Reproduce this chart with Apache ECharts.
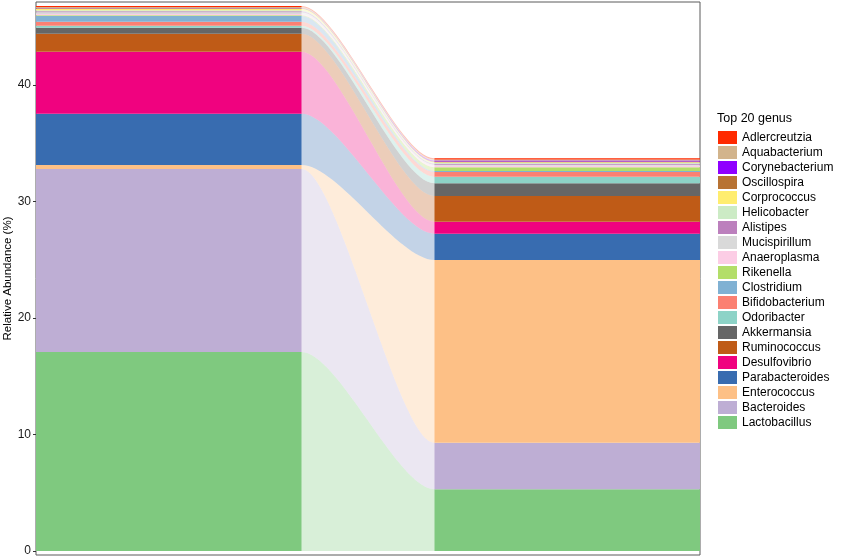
<!DOCTYPE html>
<html>
<head>
<meta charset="utf-8">
<script src="https://cdn.jsdelivr.net/npm/echarts@6/dist/echarts.min.js"></script>
<style>
html,body{margin:0;padding:0;background:#fff;}
#chart{width:858px;height:558px;}
</style>
</head>
<body>
<div id="chart"></div>
<script>
// Genus names, stacked bottom -> top
const genus = ['Lactobacillus','Bacteroides','Enterococcus','Parabacteroides','Desulfovibrio','Ruminococcus','Akkermansia','Odoribacter','Bifidobacterium','Clostridium','Rikenella','Anaeroplasma','Mucispirillum','Alistipes','Helicobacter','Corprococcus','Oscillospira','Corynebacterium','Aquabacterium','Adlercreutzia'];
// Relative abundance (%) in the first (left) group
const group1 = [17.08, 15.71, 0.34, 4.40, 5.32, 1.55, 0.52, 0.17, 0.34, 0.49, 0.07, 0.10, 0.15, 0.10, 0.08, 0.12, 0.05, 0.03, 0.08, 0.08];
// Relative abundance (%) in the second (right) group
const group2 = [5.30, 4.00, 15.68, 2.26, 1.03, 2.21, 1.09, 0.57, 0.40, 0.08, 0.33, 0.12, 0.10, 0.08, 0.08, 0.05, 0.05, 0.10, 0.08, 0.10];
// Colours per genus (same order)
const colors = ['#7FC97F','#BEAED4','#FDC086','#386CB0','#F0027F','#BF5B17','#666666','#8DD3C7','#FB8072','#80B1D3','#B3DE69','#FCCDE5','#D9D9D9','#BC80BD','#CCEBC5','#FFED6F','#B87333','#8F00FF','#D2B48C','#FF2A00'];
// Y-axis tick labels
const yTicks = [0, 10, 20, 30, 40];

const BAR_W = 2 / 3;      // stratum width in x units
const CURVE_K = 0.27;     // control point offset for flow curves
const FLOW_ALPHA = 0.3;

function cum(arr) {
  const out = []; let s = 0;
  for (const v of arr) { out.push([s, s + v]); s += v; }
  return out;
}
const c1 = cum(group1), c2 = cum(group2);

const series = genus.map((g, i) => ({
  type: 'custom',
  name: g,
  coordinateSystem: 'cartesian2d',
  itemStyle: { color: colors[i] },
  data: [[c1[i][0], c1[i][1], c2[i][0], c2[i][1]]],
  encode: { x: -1, y: [0, 1, 2, 3] },
  silent: true,
  renderItem: function (params, api) {
    const lb = api.value(0), lt = api.value(1), rb = api.value(2), rt = api.value(3);
    const xL0 = api.coord([1 - BAR_W / 2, 0])[0];
    const xL1 = api.coord([1 + BAR_W / 2, 0])[0];
    const xR0 = api.coord([2 - BAR_W / 2, 0])[0];
    const xR1 = api.coord([2 + BAR_W / 2, 0])[0];
    const yLb = api.coord([1, lb])[1], yLt = api.coord([1, lt])[1];
    const yRb = api.coord([2, rb])[1], yRt = api.coord([2, rt])[1];
    const w = xR0 - xL1;
    const ca = xL1 + w * CURVE_K, cb = xR0 - w * CURVE_K;
    const path = 'M' + xL1 + ',' + yLt +
      ' C' + ca + ',' + yLt + ' ' + cb + ',' + yRt + ' ' + xR0 + ',' + yRt +
      ' L' + xR0 + ',' + yRb +
      ' C' + cb + ',' + yRb + ' ' + ca + ',' + yLb + ' ' + xL1 + ',' + yLb + ' Z';
    const col = colors[params.seriesIndex];
    return {
      type: 'group',
      children: [
        { type: 'path', shape: { pathData: path }, style: { fill: col, opacity: FLOW_ALPHA, stroke: null } },
        { type: 'rect', shape: { x: xL0, y: yLt, width: xL1 - xL0, height: yLb - yLt }, style: { fill: col } },
        { type: 'rect', shape: { x: xR0, y: yRt, width: xR1 - xR0, height: yRb - yRt }, style: { fill: col } }
      ]
    };
  }
}));

const chart = echarts.init(document.getElementById('chart'), null, { renderer: 'canvas' });
chart.setOption({
  animation: false,
  backgroundColor: '#ffffff',
  textStyle: { fontFamily: 'Liberation Sans, Arial, sans-serif' },
  title: {
    text: 'Top 20 genus',
    left: 717, top: 112,
    padding: 0,
    textStyle: { fontSize: 12.5, fontWeight: 'normal', color: '#000', fontFamily: 'Liberation Sans' }
  },
  grid: {
    left: 36, right: 158, top: 2, bottom: 3,
    containLabel: false,
    outerBoundsMode: 'none',
    show: true, borderColor: '#5a5a5a', borderWidth: 1, backgroundColor: '#fff'
  },
  xAxis: {
    type: 'value', min: 1 - BAR_W / 2, max: 2 + BAR_W / 2,
    show: false
  },
  yAxis: {
    type: 'value', min: -0.34, max: 47.13,
    name: 'Relative Abundance (%)',
    nameLocation: 'middle', nameGap: 22,
    nameMoveOverlap: false,
    nameTextStyle: { fontSize: 11.5, color: '#000', fontFamily: 'Liberation Sans' },
    axisLine: { show: false },
    axisTick: { show: true, length: 3, lineStyle: { color: '#333' }, customValues: yTicks },
    axisLabel: { show: true, margin: 5, fontSize: 12, color: '#1a1a1a', customValues: yTicks, fontFamily: 'Liberation Sans' },
    splitLine: { show: false }
  },
  legend: {
    orient: 'vertical',
    left: 718, top: 131,
    padding: 0,
    itemGap: 2,
    itemWidth: 19, itemHeight: 13,
    icon: 'rect',
    selectedMode: false,
    data: genus.slice().reverse(),
    textStyle: { fontSize: 12, color: '#000', fontFamily: 'Liberation Sans' }
  },
  series: series
});
</script>
</body>
</html>
